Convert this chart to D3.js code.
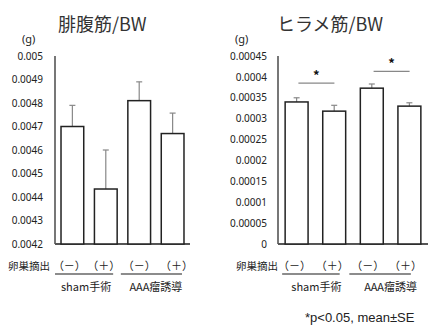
<!DOCTYPE html>
<html><head><meta charset="utf-8">
<script src="https://cdn.jsdelivr.net/npm/d3@7"></script>
<style>body{margin:0;background:#fff;}svg{display:block;font-family:"Noto Sans CJK JP","Noto Sans",sans-serif;}</style>
</head><body>
<script>
const categories = ["（－）","（＋）","（－）","（＋）"];
const groups = ["sham手術","AAA瘤誘導"];
const rowLabel = "卵巣摘出";
const gastroMean = [0.00470, 0.004434, 0.00481, 0.00467];
const gastroErr  = [0.00009, 0.000166, 0.00008, 0.000087];
const soleusMean = [0.000340, 0.000318, 0.000373, 0.000330];
const soleusErr  = [0.000010, 0.000014, 0.000010, 0.000008];
const gastroTicks = [0.0042,0.0043,0.0044,0.0045,0.0046,0.0047,0.0048,0.0049,0.005];
const soleusTicks = [0,0.00005,0.0001,0.00015,0.0002,0.00025,0.0003,0.00035,0.0004,0.00045];
const sigPairs = [[0,1,0.000385],[2,3,0.000413]];

const svg = d3.select("body").append("svg").attr("width",430).attr("height",329);

function panel(o){
  const g = svg.append("g");
  const x = d3.scaleBand().domain(d3.range(4)).range([o.x0,o.x1]).paddingInner(o.pi).paddingOuter(o.po);
  const y = d3.scaleLinear().domain(o.domain).range([244,56]);
  const ax = g.append("g").attr("transform",`translate(${o.axisX},0)`)
    .call(d3.axisLeft(y).tickValues(o.ticks).tickSize(0).tickPadding(o.tp).tickFormat(d=>String(+d.toPrecision(6))));
  ax.select(".domain").remove();
  ax.selectAll("text").attr("font-size",10).attr("fill","#222").attr("font-family","'Noto Sans','Liberation Sans',sans-serif");
  g.append("line").attr("x1",o.axisX).attr("x2",o.axisX).attr("y1",y.range()[1]).attr("y2",y.range()[0]).attr("stroke","#777").attr("stroke-width",2);
  g.append("line").attr("x1",o.axisX).attr("x2",o.axisEnd).attr("y1",244).attr("y2",244).attr("stroke","#555").attr("stroke-width",2);
  o.mean.forEach((m,i)=>{
    const cx = x(i)+x.bandwidth()/2;
    g.append("line").attr("x1",cx).attr("x2",cx).attr("y1",y(m)).attr("y2",y(m+o.err[i])).attr("stroke","#888").attr("stroke-width",1.2);
    g.append("line").attr("x1",cx-3).attr("x2",cx+3).attr("y1",y(m+o.err[i])).attr("y2",y(m+o.err[i])).attr("stroke","#888").attr("stroke-width",1.2);
  });
  g.selectAll("rect.bar").data(o.mean).join("rect").attr("class","bar")
    .attr("x",(d,i)=>x(i)).attr("width",x.bandwidth())
    .attr("y",d=>y(d)).attr("height",d=>244-y(d))
    .attr("fill","#fff").attr("stroke","#222").attr("stroke-width",1.5);
  g.append("text").attr("x",o.titleX).attr("y",31).attr("font-size",18).attr("fill","#333").text(o.title);
  g.append("text").attr("x",o.unitX).attr("y",43).attr("font-size",11).attr("fill","#222").attr("font-family","'Noto Sans',sans-serif").text("(g)");
  g.append("text").attr("x",o.rowX).attr("y",270).attr("font-size",10.5).attr("fill","#222").text(rowLabel);
  categories.forEach((c,i)=>{
    g.append("text").attr("x",x(i)+x.bandwidth()/2+o.catShift[i]).attr("y",270).attr("text-anchor","middle").attr("font-size",11).attr("fill","#222").text(c);
  });
  groups.forEach((gr,k)=>{
    const a = x(2*k), b = x(2*k+1)+x.bandwidth();
    g.append("line").attr("x1",a+o.ul[k][0]).attr("x2",b+o.ul[k][1]).attr("y1",274).attr("y2",274).attr("stroke","#666").attr("stroke-width",1.5);
    g.append("text").attr("x",(a+b)/2+o.gs[k]).attr("y",291).attr("text-anchor","middle").attr("font-size",11).attr("fill","#222").text(gr);
  });
  return {g,x,y};
}

panel({x0:55,x1:190,pi:0.32,po:0.18,axisX:55,axisEnd:190,domain:[0.0042,0.005],ticks:gastroTicks,tp:12,
  mean:gastroMean,err:gastroErr,title:"腓腹筋/BW",titleX:58,unitX:22,rowX:8,catShift:[-3,-2,0,4],ul:[[-6,-4],[-7,-2]],gs:[-3,0]});
const p2 = panel({x0:278,x1:428,pi:0.39,po:0.19,axisX:278,axisEnd:428,domain:[0,0.00045],ticks:soleusTicks,tp:11,
  mean:soleusMean,err:soleusErr,title:"ヒラメ筋/BW",titleX:277,unitX:235,rowX:236,catShift:[-2,-2,-4,-4],ul:[[-3,-6],[-11,-10]],gs:[1,0]});

sigPairs.forEach(([a,b,v])=>{
  const x = p2.x, y = p2.y;
  const mid = (x(a)+x(b)+x.bandwidth())/2 + 1;
  const xa = mid-18, xb = mid+18;
  p2.g.append("line").attr("x1",xa).attr("x2",xb).attr("y1",y(v)).attr("y2",y(v)).attr("stroke","#888").attr("stroke-width",1.3);
  p2.g.append("text").attr("x",mid).attr("y",y(v)-3).attr("text-anchor","middle").attr("font-size",13).attr("fill","#111").attr("font-weight","bold").text("*");
});

svg.append("text").attr("x",305).attr("y",322).attr("font-size",13).attr("fill","#222").attr("font-family","'Liberation Sans',Arial,sans-serif").text("*p<0.05, mean±SE");
</script>
</body></html>
